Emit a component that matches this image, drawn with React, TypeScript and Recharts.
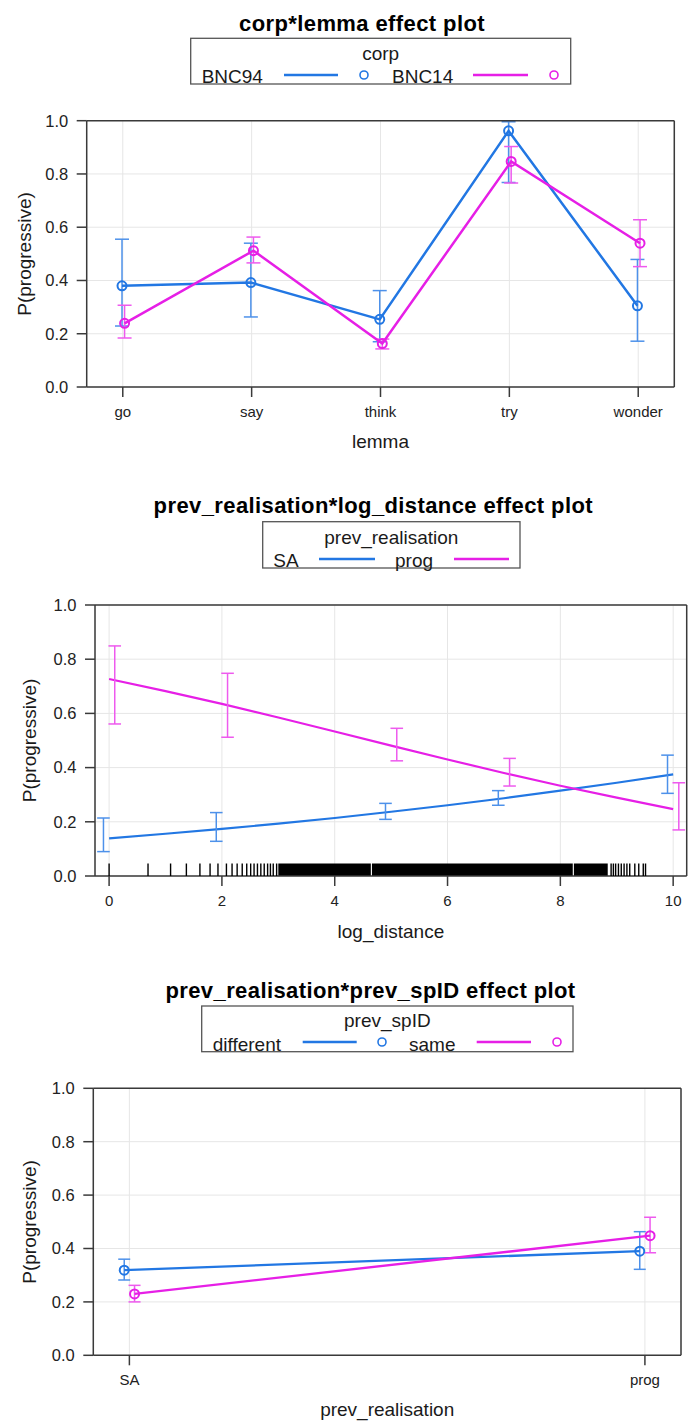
import React from 'react';
import {
  ComposedChart,
  Line,
  Scatter,
  XAxis,
  YAxis,
  CartesianGrid,
  ErrorBar,
  ReferenceArea,
} from 'recharts';

const FONT = '"Liberation Sans", Arial, Helvetica, sans-serif';
const BLUE = '#2277e3';
const BLUE_EB = '#4d91ea';
const MAG = '#e61fe6';
const MAG_EB = '#ee5aee';
const FRAME = '#3a3a3a';
const GRID = '#e6e6e6';
const TEXT = '#1a1a1a';

// ---------- Panel 1: corp*lemma ----------
const lemmas = ['go', 'say', 'think', 'try', 'wonder'];
const bnc94Fit = [0.38, 0.392, 0.254, 0.962, 0.305];
const bnc94Lower = [0.229, 0.263, 0.17, 0.768, 0.172];
const bnc94Upper = [0.555, 0.54, 0.362, 0.996, 0.479];
const bnc14Fit = [0.239, 0.512, 0.163, 0.847, 0.54];
const bnc14Lower = [0.184, 0.466, 0.143, 0.766, 0.452];
const bnc14Upper = [0.307, 0.563, 0.18, 0.903, 0.628];

// ---------- Panel 2: prev_realisation*log_distance ----------
const logDistanceGrid = [0, 1, 2, 3, 4, 5, 6, 7, 8, 9, 10];
const saCurve = [0.139, 0.156, 0.174, 0.193, 0.214, 0.237, 0.261, 0.287, 0.315, 0.344, 0.375];
const progCurve = [0.727, 0.682, 0.635, 0.585, 0.533, 0.481, 0.43, 0.38, 0.333, 0.289, 0.247];
const effectLevels = [0, 2, 5, 7, 10];
const saFit = [0.139, 0.174, 0.237, 0.287, 0.375];
const saLower = [0.09, 0.128, 0.209, 0.261, 0.305];
const saUpper = [0.214, 0.234, 0.268, 0.315, 0.446];
const progFit = [0.727, 0.635, 0.48, 0.38, 0.247];
const progLower = [0.561, 0.512, 0.425, 0.332, 0.17];
const progUpper = [0.849, 0.748, 0.545, 0.434, 0.344];
const logDistanceTicks = [0, 2, 4, 6, 8, 10];
const rugSparse = [
  0, 0.69, 1.09, 1.37, 1.61, 1.79, 1.93, 2.08, 2.18, 2.27, 2.36, 2.44, 2.51, 2.57, 2.63,
  2.69, 2.75, 2.81, 2.86, 2.91, 2.97, 8.9, 8.94, 8.98, 9.03, 9.08, 9.13, 9.18, 9.23, 9.32,
  9.39, 9.47, 9.51,
];
const rugDense: [number, number][] = [
  [3.0, 4.64],
  [4.66, 8.22],
  [8.24, 8.84],
];

// ---------- Panel 3: prev_realisation*prev_spID ----------
const prevRealisation = ['SA', 'prog'];
const differentFit = [0.319, 0.39];
const differentLower = [0.282, 0.322];
const differentUpper = [0.36, 0.463];
const sameFit = [0.23, 0.448];
const sameLower = [0.2, 0.384];
const sameUpper = [0.262, 0.517];

const ticks01 = [0, 0.2, 0.4, 0.6, 0.8, 1];

const mkRows = (xs: number[], fit: number[], lo: number[], hi: number[], dodge: number) =>
  fit.map((f, i) => ({ x: xs[i] + dodge, fit: f, err: [f - lo[i], hi[i] - f] }));

const idx = (arr: any[]) => arr.map((_, i) => i);

const bnc94Rows = mkRows(idx(lemmas), bnc94Fit, bnc94Lower, bnc94Upper, -0.006);
const bnc14Rows = mkRows(idx(lemmas), bnc14Fit, bnc14Lower, bnc14Upper, 0.014);
const saCurveRows = logDistanceGrid.map((x, i) => ({ x, p: saCurve[i] }));
const progCurveRows = logDistanceGrid.map((x, i) => ({ x, p: progCurve[i] }));
const saEffRows = mkRows(effectLevels, saFit, saLower, saUpper, -0.1);
const progEffRows = mkRows(effectLevels, progFit, progLower, progUpper, 0.1);
const rugRows = rugSparse.map((x) => ({ x, y: 0 }));
const differentRows = mkRows(idx(prevRealisation), differentFit, differentLower, differentUpper, -0.01);
const sameRows = mkRows(idx(prevRealisation), sameFit, sameLower, sameUpper, 0.01);

const axisLineStyle = { stroke: FRAME, strokeWidth: 1.5 };

function frameAxes(xDomain: [number, number], xTicks: number[], xFormat: (v: number) => string, rightWidth: number) {
  return [
    <CartesianGrid key="grid" stroke={GRID} strokeWidth={1} />,
    <XAxis
      key="xb"
      xAxisId={0}
      type="number"
      dataKey="x"
      domain={xDomain}
      ticks={xTicks}
      interval={0}
      allowDataOverflow
      tickFormatter={xFormat}
      height={30}
      tickSize={10}
      tickMargin={9}
      axisLine={axisLineStyle}
      tickLine={axisLineStyle}
      tick={{ fontSize: 15, fill: '#222', fontFamily: FONT }}
    />,
    <XAxis
      key="xt"
      xAxisId="top"
      orientation="top"
      type="number"
      dataKey="x"
      domain={xDomain}
      ticks={xTicks}
      interval={0}
      allowDataOverflow
      height={10}
      tickSize={9}
      tick={false}
      axisLine={axisLineStyle}
      tickLine={axisLineStyle}
    />,
    <YAxis
      key="yl"
      yAxisId={0}
      type="number"
      domain={[0, 1]}
      ticks={ticks01}
      interval={0}
      allowDataOverflow
      tickFormatter={(v: number) => v.toFixed(1)}
      width={60}
      tickSize={10}
      tickMargin={8.5}
      axisLine={axisLineStyle}
      tickLine={axisLineStyle}
      tick={{ fontSize: 16.5, fill: '#222', fontFamily: FONT }}
    />,
    <YAxis
      key="yr"
      yAxisId="right"
      orientation="right"
      type="number"
      domain={[0, 1]}
      ticks={ticks01}
      interval={0}
      allowDataOverflow
      width={rightWidth}
      tickSize={9}
      tick={false}
      axisLine={axisLineStyle}
      tickLine={axisLineStyle}
    />,
  ];
}

const emptyShape = () => <g />;
const rugShape = (props: any) => (
  <line x1={props.cx} x2={props.cx} y1={props.cy} y2={props.cy - 12.5} stroke="#000" strokeWidth={1.4} />
);

type LegendItem = { label: string; tx: number; l1: number; l2: number; cx?: number; color: string };

function LegendBox(p: {
  x: number; y: number; w: number; h: number; title: string; titleY: number; rowY: number; lineY: number; items: LegendItem[];
}) {
  return (
    <g>
      <rect x={p.x} y={p.y} width={p.w} height={p.h} fill="none" stroke="#555" strokeWidth={1.3} />
      <text x={p.x + p.w / 2} y={p.titleY} textAnchor="middle" fontSize={19} fill={TEXT} fontFamily={FONT}>
        {p.title}
      </text>
      {p.items.map((it) => (
        <g key={it.label}>
          <text x={it.tx} y={p.rowY} fontSize={19} fill={TEXT} fontFamily={FONT}>
            {it.label}
          </text>
          <line x1={it.l1} x2={it.l2} y1={p.lineY} y2={p.lineY} stroke={it.color} strokeWidth={2.5} />
          {it.cx !== undefined && (
            <circle cx={it.cx} cy={p.lineY} r={4} fill="none" stroke={it.color} strokeWidth={1.6} />
          )}
        </g>
      ))}
    </g>
  );
}

function YLabel({ x, y }: { x: number; y: number }) {
  return (
    <text x={x} y={y} transform={`rotate(-90, ${x}, ${y})`} textAnchor="middle" fontSize={19} fill={TEXT} fontFamily={FONT}>
      P(progressive)
    </text>
  );
}

function XLabel({ x, y, label }: { x: number; y: number; label: string }) {
  return (
    <text x={x} y={y} textAnchor="middle" fontSize={19} fill={TEXT} fontFamily={FONT}>
      {label}
    </text>
  );
}

function Title({ x, y, label }: { x: number; y: number; label: string }) {
  return (
    <text x={x} y={y} textAnchor="middle" fontSize={22} fontWeight="bold" letterSpacing={0.4} fill="#000" fontFamily={FONT}>
      {label}
    </text>
  );
}

export default function App() {
  return (
    <div style={{ position: 'absolute', left: 0, top: 0, width: 688, height: 1423, background: '#fff', overflow: 'hidden', fontFamily: FONT }}>
      {/* Panel 1 */}
      <div style={{ position: 'absolute', left: 0, top: 0 }}>
        <ComposedChart width={688} height={460} margin={{ top: 110.7, right: 3.7, bottom: 43, left: 26.7 }}>
          {frameAxes([-0.28, 4.28], idx(lemmas), (v) => lemmas[v] ?? '', 10)}
          <Line data={bnc94Rows} dataKey="fit" stroke={BLUE} strokeWidth={2.5} dot={{ r: 4.5, stroke: BLUE, strokeWidth: 2, fill: 'none' }} isAnimationActive={false}>
            <ErrorBar dataKey="err" width={7} stroke={BLUE_EB} strokeWidth={1.5} direction="y" />
          </Line>
          <Line data={bnc14Rows} dataKey="fit" stroke={MAG} strokeWidth={2.5} dot={{ r: 4.5, stroke: MAG, strokeWidth: 2, fill: 'none' }} isAnimationActive={false}>
            <ErrorBar dataKey="err" width={7} stroke={MAG_EB} strokeWidth={1.5} direction="y" />
          </Line>
        </ComposedChart>
      </div>

      {/* Panel 2 */}
      <div style={{ position: 'absolute', left: 0, top: 470 }}>
        <ComposedChart width={688} height={480} margin={{ top: 125, right: 0.3, bottom: 44, left: 35 }}>
          {frameAxes([-0.25, 10.24], logDistanceTicks, (v) => String(v), 1)}
          {rugDense.map(([a, b], i) => (
            <ReferenceArea key={`rug${i}`} x1={a} x2={b} y1={0} y2={0.046} fill="#000" fillOpacity={1} stroke="none" ifOverflow="visible" />
          ))}
          <Scatter data={rugRows} dataKey="y" shape={rugShape} isAnimationActive={false} />
          <Line data={saCurveRows} dataKey="p" stroke={BLUE} strokeWidth={2.2} dot={false} isAnimationActive={false} />
          <Line data={progCurveRows} dataKey="p" stroke={MAG} strokeWidth={2.2} dot={false} isAnimationActive={false} />
          <Scatter data={saEffRows} dataKey="fit" shape={emptyShape} isAnimationActive={false}>
            <ErrorBar dataKey="err" width={6.3} stroke={BLUE_EB} strokeWidth={1.5} direction="y" />
          </Scatter>
          <Scatter data={progEffRows} dataKey="fit" shape={emptyShape} isAnimationActive={false}>
            <ErrorBar dataKey="err" width={6.3} stroke={MAG_EB} strokeWidth={1.5} direction="y" />
          </Scatter>
        </ComposedChart>
      </div>

      {/* Panel 3 */}
      <div style={{ position: 'absolute', left: 0, top: 1040 }}>
        <ComposedChart width={688} height={383} margin={{ top: 38.3, right: 1, bottom: 37.7, left: 33.3 }}>
          {frameAxes([-0.07, 1.07], idx(prevRealisation), (v) => prevRealisation[v] ?? '', 6)}
          <Line data={differentRows} dataKey="fit" stroke={BLUE} strokeWidth={2.3} dot={{ r: 4.5, stroke: BLUE, strokeWidth: 2, fill: 'none' }} isAnimationActive={false}>
            <ErrorBar dataKey="err" width={6} stroke={BLUE_EB} strokeWidth={1.5} direction="y" />
          </Line>
          <Line data={sameRows} dataKey="fit" stroke={MAG} strokeWidth={2.3} dot={{ r: 4.5, stroke: MAG, strokeWidth: 2, fill: 'none' }} isAnimationActive={false}>
            <ErrorBar dataKey="err" width={6} stroke={MAG_EB} strokeWidth={1.5} direction="y" />
          </Line>
        </ComposedChart>
      </div>

      {/* Titles, legends and axis titles */}
      <svg width={688} height={1423} style={{ position: 'absolute', left: 0, top: 0, pointerEvents: 'none' }}>
        <Title x={362} y={30.5} label="corp*lemma effect plot" />
        <LegendBox
          x={190.7} y={38.3} w={380} h={45.7} title="corp" titleY={59.5} rowY={83} lineY={75}
          items={[
            { label: 'BNC94', tx: 201.7, l1: 284, l2: 338, cx: 364, color: BLUE },
            { label: 'BNC14', tx: 392, l1: 473, l2: 528, cx: 554, color: MAG },
          ]}
        />
        <YLabel x={31} y={254} />
        <XLabel x={380.5} y={448} label="lemma" />

        <Title x={373.3} y={513.3} label="prev_realisation*log_distance effect plot" />
        <LegendBox
          x={262.7} y={521.7} w={257.3} h={46.3} title="prev_realisation" titleY={543.5} rowY={567} lineY={559}
          items={[
            { label: 'SA', tx: 273.3, l1: 319, l2: 375, color: BLUE },
            { label: 'prog', tx: 395, l1: 454, l2: 509, color: MAG },
          ]}
        />
        <YLabel x={35.5} y={740.5} />
        <XLabel x={390.9} y={937.5} label="log_distance" />

        <Title x={370.5} y={997.7} label="prev_realisation*prev_spID effect plot" />
        <LegendBox
          x={201.7} y={1006} w={371.3} h={45.7} title="prev_spID" titleY={1027} rowY={1051} lineY={1042}
          items={[
            { label: 'different', tx: 212.7, l1: 302.7, l2: 356.7, cx: 382, color: BLUE },
            { label: 'same', tx: 409, l1: 476.7, l2: 531, cx: 557, color: MAG },
          ]}
        />
        <YLabel x={35.5} y={1222} />
        <XLabel x={387.2} y={1416} label="prev_realisation" />
      </svg>
    </div>
  );
}
